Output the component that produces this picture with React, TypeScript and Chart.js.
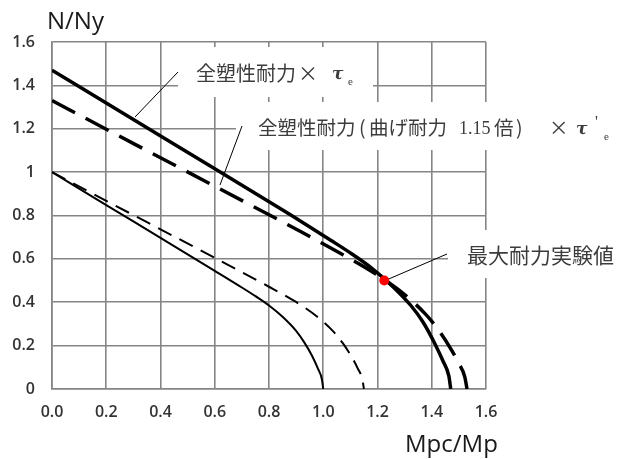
import React, { useEffect, useRef } from "react";
import { Chart, registerables } from "chart.js";

Chart.register(...registerables);

// Thin solid: full plastic strength
const thinSolidX = [0, 0.2, 0.4, 0.6, 0.7, 0.75, 0.8, 0.85, 0.9, 0.93, 0.96, 0.98, 0.995, 1.0];
const thinSolidY = [1, 0.848, 0.697, 0.545, 0.468, 0.428, 0.385, 0.333, 0.268, 0.215, 0.15, 0.095, 0.045, 0];

// Thin dashed: bending strength x1.15
const thinDashX = [0, 0.23, 0.46, 0.69, 0.805, 0.863, 0.92, 0.978, 1.035, 1.07, 1.104, 1.127, 1.144, 1.15];
const thinDashY = [1, 0.848, 0.697, 0.545, 0.468, 0.428, 0.385, 0.333, 0.268, 0.215, 0.15, 0.095, 0.045, 0];

// Thick solid: 全塑性耐力 × τe
const thickSolidX = [0, 0.294, 0.588, 0.882, 1.029, 1.103, 1.176, 1.25, 1.323, 1.367, 1.411, 1.441, 1.463, 1.47];
const thickSolidY = [1.47, 1.247, 1.025, 0.801, 0.685, 0.625, 0.56, 0.48, 0.385, 0.31, 0.21, 0.13, 0.06, 0];

// Thick dashed: 全塑性耐力(曲げ耐力1.15倍) × τ'e
const thickDashX = [0, 0.306, 0.612, 0.918, 1.071, 1.147, 1.224, 1.3, 1.377, 1.422, 1.468, 1.499, 1.522, 1.53];
const thickDashY = [1.33, 1.128, 0.927, 0.725, 0.62, 0.566, 0.505, 0.435, 0.345, 0.277, 0.19, 0.12, 0.055, 0];

// Experimental maximum strength
const testX = [1.225];
const testY = [0.5];

const xTickLabels = ["0.0", "0.2", "0.4", "0.6", "0.8", "1.0", "1.2", "1.4", "1.6"];
const yTickLabels = ["0", "0.2", "0.4", "0.6", "0.8", "1", "1.2", "1.4", "1.6"];

const xTitle = "Mpc/Mp";
const yTitle = "N/Ny";
const label1 = "全塑性耐力";
const label3 = "最大耐力実験値";

const toPts = (xs: number[], ys: number[]) => xs.map((x, i) => ({ x, y: ys[i] }));

const GRID = "#858585";
const TXT = "#3c3c3c";
const CJK = '"Noto Sans CJK JP", sans-serif';
const SERIF = '"Liberation Serif", serif';

const annotPlugin = {
  id: "annot",
  beforeDatasetsDraw(chart: any) {
    const ctx = chart.ctx;
    ctx.save();
    // white boxes behind labels
    ctx.fillStyle = "#ffffff";
    ctx.fillRect(178, 47, 195, 50);
    ctx.fillRect(236, 102, 382, 48);
    ctx.fillRect(448, 230, 170, 48);

    ctx.fillStyle = TXT;
    ctx.textBaseline = "middle";
    ctx.textAlign = "left";
    // label 1
    ctx.font = "20px " + CJK;
    ctx.fillText(label1, 196, 73);
    ctx.fillText("×", 298, 73);
    ctx.font = 'bold italic 17px "DejaVu Serif", serif';
    ctx.fillText("τ", 332, 75);
    ctx.font = "11px " + SERIF;
    ctx.fillText("e", 348, 82);

    // label 2
    ctx.font = "19.5px " + CJK;
    ctx.fillText("全塑性耐力", 258, 128);
    ctx.fillText("(", 359, 128);
    ctx.fillText("曲げ耐力", 369, 128);
    ctx.font = "18px " + SERIF;
    ctx.fillText("1.15", 459, 129);
    ctx.font = "19.5px " + CJK;
    ctx.fillText("倍", 494, 128);
    ctx.fillText(")", 516, 128);
    ctx.fillText("×", 549, 128);
    ctx.font = 'bold italic 17px "DejaVu Serif", serif';
    ctx.fillText("τ", 576, 130);
    ctx.font = "16px " + SERIF;
    ctx.fillText("'", 595, 123);
    ctx.font = "11px " + SERIF;
    ctx.fillText("e", 604, 137);

    // label 3
    ctx.font = "21px " + CJK;
    ctx.fillText(label3, 467, 255);

    // leader lines
    ctx.strokeStyle = "#000000";
    ctx.lineWidth = 1;
    ctx.beginPath();
    ctx.moveTo(178, 72);
    ctx.lineTo(135, 117);
    ctx.moveTo(242, 126);
    ctx.lineTo(220, 185);
    ctx.moveTo(447, 254);
    ctx.lineTo(384, 281);
    ctx.stroke();

    // axis titles
    ctx.fillStyle = "#1a1a1a";
    ctx.textBaseline = "alphabetic";
    ctx.font = '24px "Open Sans", sans-serif';
    ctx.fillText(yTitle, 47, 29);
    ctx.fillText(xTitle, 405, 452);
    ctx.restore();
  },
};

export default function App() {
  const ref = useRef<HTMLCanvasElement | null>(null);
  useEffect(() => {
    document.body.style.margin = "0";
    const canvas = ref.current;
    if (!canvas) return;
    const tickFont = { family: '"Open Sans", sans-serif', size: 16, weight: "600" };
    const chart = new Chart(canvas, {
      type: "scatter",
      data: {
        datasets: [
          {
            data: toPts(testX, testY),
            showLine: false,
            pointRadius: 5,
            pointBackgroundColor: "#ff0000",
            pointBorderWidth: 0,
            borderColor: "#ff0000",
            order: 0,
          },
          {
            data: toPts(thickSolidX, thickSolidY),
            showLine: true,
            borderColor: "#000000",
            borderWidth: 3.5,
            pointRadius: 0,
            cubicInterpolationMode: "monotone",
            order: 1,
          },
          {
            data: toPts(thickDashX, thickDashY),
            showLine: true,
            borderColor: "#000000",
            borderWidth: 3.5,
            borderDash: [26, 12],
            pointRadius: 0,
            cubicInterpolationMode: "monotone",
            order: 2,
          },
          {
            data: toPts(thinSolidX, thinSolidY),
            showLine: true,
            borderColor: "#000000",
            borderWidth: 2,
            pointRadius: 0,
            cubicInterpolationMode: "monotone",
            order: 3,
          },
          {
            data: toPts(thinDashX, thinDashY),
            showLine: true,
            borderColor: "#000000",
            borderWidth: 2,
            borderDash: [15, 9],
            pointRadius: 0,
            cubicInterpolationMode: "monotone",
            order: 4,
          },
        ],
      },
      options: {
        animation: false,
        responsive: false,
        layout: { padding: { left: 0, top: 42, right: 132, bottom: 0 } },
        plugins: { legend: { display: false }, tooltip: { enabled: false } },
        scales: {
          x: {
            type: "linear",
            min: 0,
            max: 1.6,
            afterFit: (s: any) => {
              s.height = 70;
            },
            ticks: {
              stepSize: 0.2,
              padding: 14,
              color: "#333333",
              font: tickFont,
              callback: (_v: any, i: number) => xTickLabels[i],
            },
            grid: { color: GRID, lineWidth: 1.6, drawTicks: false },
            border: { color: GRID, width: 1.6 },
          },
          y: {
            type: "linear",
            min: 0,
            max: 1.6,
            afterFit: (s: any) => {
              s.width = 52;
            },
            ticks: {
              stepSize: 0.2,
              padding: 17,
              color: "#333333",
              font: tickFont,
              callback: (_v: any, i: number) => yTickLabels[i],
            },
            grid: { color: GRID, lineWidth: 1.6, drawTicks: false },
            border: { color: GRID, width: 1.6 },
          },
        },
      },
      plugins: [annotPlugin],
    });
    return () => chart.destroy();
  }, []);
  return (
    <div style={{ position: "absolute", left: 0, top: 0, width: 618, height: 459, background: "#fff" }}>
      <canvas ref={ref} width={618} height={459} />
    </div>
  );
}
